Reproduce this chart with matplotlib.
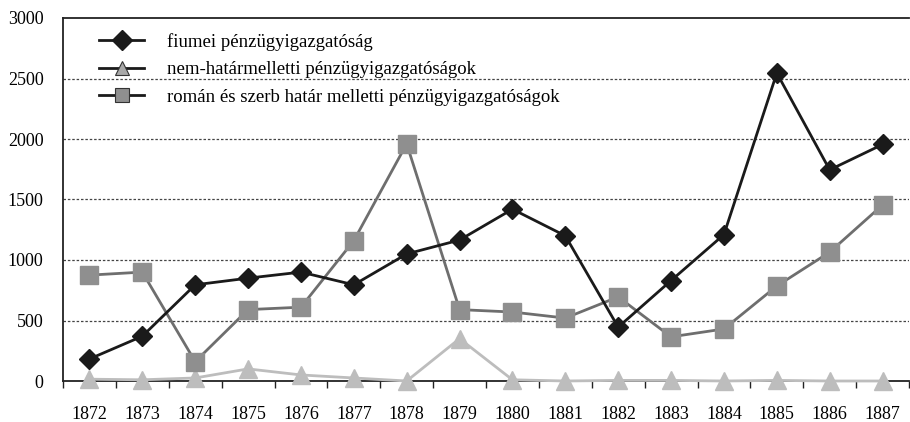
import numpy as np
import matplotlib
matplotlib.use('Agg')
import matplotlib.pyplot as plt
from matplotlib.lines import Line2D

plt.rcParams['font.family'] = ['Liberation Serif', 'DejaVu Serif']

years = ['1872', '1873', '1874', '1875', '1876', '1877', '1878', '1879',
         '1880', '1881', '1882', '1883', '1884', '1885', '1886', '1887']

fiume = [182, 370, 795, 850, 900, 795, 1050, 1165,
         1420, 1200, 445, 830, 1210, 2545, 1745, 1955]
nemhatar = [15, 10, 25, 100, 50, 25, 0, 350,
            10, 0, 5, 5, 0, 5, 0, 0]
roman_szerb = [875, 900, 160, 590, 610, 1160, 1960, 590,
               570, 520, 695, 365, 430, 785, 1065, 1455]

labels = ['fiumei pénzügyigazgatóság',
          'nem-határmelletti pénzügyigazgatóságok',
          'román és szerb határ melletti pénzügyigazgatóságok']

fig = plt.figure(figsize=(9.1, 4.22), dpi=100)
ax = fig.add_axes([63/910, 41/422, 846/910, 363/422])

x = np.arange(len(years))

ax.plot(x, nemhatar, color='#bdbdbd', lw=2, marker='^', ms=13,
        mfc='#bdbdbd', mec='#bdbdbd', zorder=3, clip_on=False)
ax.plot(x, roman_szerb, color='#6e6e6e', lw=2, marker='s', ms=13,
        mfc='#8f8f8f', mec='#8f8f8f', zorder=4, clip_on=False)
ax.plot(x, fiume, color='#1a1a1a', lw=2, marker='D', ms=10,
        mfc='#1a1a1a', mec='#1a1a1a', zorder=5, clip_on=False)

ax.set_xlim(-0.5, len(years) - 0.5)
ax.set_ylim(0, 3000)
ax.set_yticks(np.arange(0, 3001, 500))
ax.tick_params(axis='y', length=0, pad=14, labelsize=13)

ax.set_xticks(x)
ax.set_xticklabels(years)
ax.set_xticks(np.arange(-0.5, len(years), 1), minor=True)
ax.tick_params(axis='x', which='major', length=0, pad=18, labelsize=13)
ax.tick_params(axis='x', which='minor', length=5, width=1, color='#222222')

for v in range(500, 3000, 500):
    ax.axhline(v, color='#444444', lw=0.9, ls=(0, (2, 1.5)), zorder=1)

ax.spines['right'].set_visible(False)
for s in ['left', 'bottom', 'top']:
    ax.spines[s].set_color('#222222')
    ax.spines[s].set_linewidth(1.3)

# legend handles: black line, marker in series colour
handles = [
    Line2D([], [], color='#1a1a1a', lw=2, marker='D', ms=10,
           mfc='#1a1a1a', mec='#1a1a1a'),
    Line2D([], [], color='#1a1a1a', lw=2, marker='^', ms=10,
           mfc='#a8a8a8', mec='#333333', mew=0.8),
    Line2D([], [], color='#1a1a1a', lw=2, marker='s', ms=10,
           mfc='#8f8f8f', mec='#333333', mew=0.8),
]
ax.legend(handles, labels, loc='upper left',
          bbox_to_anchor=(0.025, 1.0), frameon=False, fontsize=13.5,
          handlelength=2.4, handletextpad=1.2, labelspacing=0.55,
          borderaxespad=0.4)

fig.savefig('out.png', dpi=100)
